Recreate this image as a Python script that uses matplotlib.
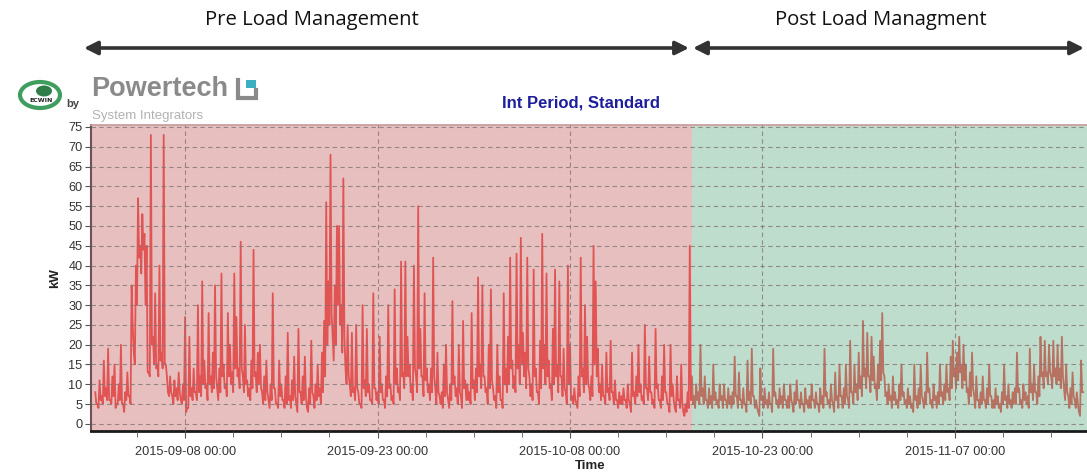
import numpy as np
import pandas as pd
import matplotlib
matplotlib.use('Agg')
import matplotlib.pyplot as plt
import matplotlib.dates as mdates
from matplotlib.patches import Ellipse, Rectangle

# demand (kW) in 4-hour slots, one row per day from 2015-09-01 00:00
kw_pre = [
    [8, 5, 11, 7, 16, 9],      # 09-01
    [19, 6, 12, 15, 5, 10],
    [20, 5, 8, 13, 7, 35],
    [18, 40, 57, 45, 53, 48],
    [45, 13, 73, 22, 33, 15],  # 09-05
    [40, 18, 73, 15, 8, 12],
    [7, 11, 9, 13, 6, 10],
    [27, 4, 22, 9, 14, 8],
    [30, 12, 36, 16, 10, 28],
    [12, 18, 35, 9, 14, 38],   # 09-10
    [15, 10, 28, 20, 13, 38],
    [27, 14, 46, 12, 25, 11],
    [9, 16, 44, 13, 18, 20],
    [8, 12, 16, 6, 10, 33],
    [9, 5, 16, 10, 6, 12],     # 09-15
    [23, 7, 11, 17, 5, 24],
    [8, 12, 17, 4, 9, 21],
    [7, 10, 15, 9, 18, 26],
    [56, 36, 68, 22, 35, 50],
    [50, 30, 62, 14, 25, 10],  # 09-20
    [23, 9, 25, 8, 5, 30],
    [11, 24, 10, 6, 33, 9],
    [8, 22, 10, 6, 12, 30],
    [10, 7, 34, 14, 9, 41],
    [13, 41, 22, 15, 10, 40],  # 09-25
    [12, 55, 24, 12, 33, 14],
    [10, 14, 42, 9, 18, 7],
    [8, 15, 20, 6, 10, 31],
    [12, 9, 20, 7, 26, 11],
    [10, 8, 28, 11, 14, 37],   # 09-30
    [15, 35, 12, 9, 20, 34],
    [9, 7, 20, 12, 6, 33],
    [14, 22, 42, 16, 12, 43],
    [20, 47, 23, 18, 42, 12],
    [10, 39, 14, 8, 21, 48],   # 10-05
    [20, 38, 16, 10, 24, 39],
    [15, 36, 12, 19, 8, 40],
    [20, 7, 9, 5, 12, 42],
    [14, 30, 22, 9, 12, 45],
    [36, 19, 10, 15, 7, 18],   # 10-10
    [9, 21, 8, 11, 6, 8],
    [7, 9, 6, 10, 5, 18],
    [8, 12, 20, 10, 7, 25],
    [9, 17, 8, 6, 24, 10],
    [6, 12, 20, 8, 5, 20],     # 10-15
    [10, 4, 12, 6, 15, 3],
    [5, 8, 45],                # 10-17 until noon
]
kw_post = [
    [12, 7, 10],               # 10-17 afternoon
    [8, 20, 9, 12, 6, 9],
    [7, 15, 8, 6, 10, 7],
    [10, 6, 9, 7, 8, 17],      # 10-20
    [7, 13, 6, 9, 5, 16],
    [8, 19, 7, 6, 3, 14],
    [7, 9, 6, 8, 5, 19],
    [8, 6, 9, 7, 10, 6],
    [7, 10, 5, 8, 11, 6],      # 10-25
    [8, 5, 9, 6, 7, 10],
    [6, 8, 5, 9, 7, 19],
    [8, 6, 10, 5, 13, 7],
    [15, 7, 9, 15, 6, 21],
    [8, 15, 10, 18, 12, 26],   # 10-30
    [14, 23, 12, 22, 17, 10],
    [15, 21, 28, 12, 8, 10],
    [7, 12, 8, 6, 10, 15],
    [8, 6, 9, 7, 5, 15],
    [7, 9, 15, 6, 8, 18],      # 11-04
    [9, 6, 10, 7, 8, 15],
    [8, 10, 15, 9, 17, 21],
    [14, 18, 22, 15, 20, 15],
    [9, 13, 18, 7, 12, 6],
    [8, 12, 6, 9, 15, 7],      # 11-09
    [6, 9, 7, 5, 8, 15],
    [7, 10, 6, 8, 9, 18],
    [9, 6, 10, 8, 7, 19],
    [10, 15, 8, 12, 22, 13],
    [21, 13, 20, 12, 21, 14],  # 11-14
    [20, 14, 22, 9, 15, 7],
    [9, 13, 6, 8, 3, 16],
    [8],
]

# lowest reading seen in the 2 hours after each slot above
trough_pre = [
    [5, 4, 6, 5, 7, 6],
    [6, 5, 7, 4, 5, 6],
    [5, 3, 6, 7, 5, 25],
    [15, 30, 42, 38, 44, 30],
    [13, 12, 20, 15, 14, 12],
    [16, 14, 15, 12, 7, 8],
    [5, 7, 6, 8, 5, 6],
    [3, 4, 7, 6, 8, 6],
    [8, 7, 10, 9, 6, 10],
    [8, 9, 12, 6, 8, 12],
    [9, 7, 12, 10, 8, 14],
    [12, 9, 14, 8, 10, 7],
    [6, 9, 12, 8, 10, 9],
    [5, 6, 8, 4, 6, 9],
    [5, 4, 7, 6, 4, 5],
    [6, 4, 6, 7, 3, 8],
    [5, 6, 7, 3, 5, 8],
    [4, 6, 7, 5, 8, 12],
    [20, 25, 28, 16, 20, 30],
    [25, 18, 22, 10, 12, 7],
    [8, 6, 9, 5, 4, 9],
    [7, 8, 6, 5, 9, 6],
    [5, 8, 6, 4, 7, 9],
    [6, 5, 10, 8, 6, 12],
    [9, 12, 12, 8, 6, 14],
    [8, 14, 12, 7, 11, 8],
    [6, 8, 12, 5, 8, 5],
    [4, 7, 8, 4, 6, 10],
    [7, 5, 8, 4, 9, 6],
    [6, 5, 9, 6, 8, 12],
    [9, 12, 8, 5, 9, 11],
    [6, 4, 8, 6, 4, 10],
    [8, 10, 14, 9, 8, 14],
    [10, 15, 12, 9, 14, 7],
    [6, 12, 8, 5, 9, 14],
    [10, 12, 9, 6, 10, 12],
    [8, 12, 7, 9, 5, 10],
    [6, 5, 6, 4, 7, 12],
    [8, 10, 10, 6, 7, 15],
    [12, 8, 6, 7, 5, 8],
    [6, 8, 5, 6, 4, 5],
    [5, 6, 4, 6, 3, 7],
    [5, 7, 8, 6, 5, 9],
    [6, 8, 5, 4, 9, 6],
    [4, 6, 8, 5, 3, 7],
    [6, 3, 6, 4, 5, 2],
    [3, 4, 6],
]
trough_post = [
    [5, 4, 6],
    [5, 7, 5, 6, 4, 5],
    [4, 6, 5, 4, 6, 4],
    [6, 4, 5, 4, 5, 7],
    [4, 6, 4, 5, 3, 6],
    [5, 7, 4, 4, 2, 6],
    [4, 5, 4, 5, 3, 7],
    [5, 4, 5, 4, 6, 4],
    [4, 6, 3, 5, 6, 4],
    [5, 3, 5, 4, 4, 6],
    [4, 5, 3, 5, 4, 7],
    [5, 4, 6, 3, 6, 4],
    [7, 4, 5, 7, 4, 8],
    [5, 8, 6, 9, 7, 12],
    [9, 12, 8, 11, 9, 6],
    [9, 11, 13, 7, 5, 6],
    [4, 6, 5, 4, 6, 7],
    [5, 4, 5, 4, 3, 6],
    [4, 5, 7, 4, 5, 8],
    [5, 4, 6, 4, 5, 7],
    [5, 6, 8, 6, 9, 12],
    [9, 11, 13, 9, 11, 8],
    [5, 7, 9, 4, 6, 4],
    [5, 6, 4, 5, 7, 4],
    [4, 5, 4, 3, 5, 6],
    [4, 5, 4, 5, 5, 8],
    [5, 4, 6, 5, 4, 8],
    [6, 8, 5, 7, 12, 9],
    [12, 10, 13, 9, 12, 10],
    [11, 9, 12, 6, 8, 4],
    [5, 7, 4, 5, 2, 8],
]

data_start = '2015-09-01 00:00'
switch_time = pd.Timestamp('2015-10-17 12:00')
view_start = pd.Timestamp('2015-08-31 16:00')
view_end = pd.Timestamp('2015-11-17 07:00')
major_dates = ['2015-09-08', '2015-09-23', '2015-10-08', '2015-10-23', '2015-11-07']

levels = [v for row in kw_pre + kw_post for v in row]
troughs = [v for row in trough_pre + trough_post for v in row]
kw = np.empty(len(levels) + len(troughs))
kw[0::2] = levels
kw[1::2] = troughs
times = pd.date_range(data_start, periods=len(kw), freq='2h')

fig = plt.figure(figsize=(10.87, 4.76), dpi=100)
ax = fig.add_axes([91 / 1087, 45 / 476, 996 / 1087, 306 / 476])

ax.plot(times, kw, color='#f22828', lw=1.3, zorder=1)
ax.axvspan(view_start, switch_time, color='#d18181', alpha=0.5, lw=0, zorder=2)
ax.axvspan(switch_time, view_end, color='#7fbc9c', alpha=0.5, lw=0, zorder=2)

ax.set_xlim(view_start, view_end)
ax.set_ylim(-1.8, 75.5)
ax.set_yticks(np.arange(0, 80, 5))

ax.set_xticks(pd.to_datetime(major_dates))
ax.xaxis.set_major_formatter(mdates.DateFormatter('%Y-%m-%d %H:%M'))
ax.set_xticks(pd.date_range('2015-09-04 06:00', view_end, freq='90h'), minor=True)

ax.set_axisbelow(False)
ax.grid(True, which='major', color='#857575', ls=(0, (4, 3)), lw=0.8, alpha=0.8)

ax.tick_params(axis='both', which='both', direction='out', color='#555555',
               labelcolor='#333333', labelsize=9.2)
ax.tick_params(axis='x', which='major', length=5, pad=6)
ax.tick_params(axis='x', which='minor', length=4)
ax.tick_params(axis='y', length=4, pad=2)
for lab in ax.get_xticklabels() + ax.get_yticklabels():
    lab.set_family('Liberation Sans')

ax.spines['right'].set_visible(False)
ax.spines['top'].set_color('#c79a9a')
ax.spines['top'].set_linewidth(1.2)
ax.spines['left'].set_color('#6e5252')
ax.spines['left'].set_linewidth(1.5)
ax.spines['bottom'].set_color('#1a1a1a')
ax.spines['bottom'].set_linewidth(2)

# overlay in pixel coordinates for headers, arrows and logo
ov = fig.add_axes([0, 0, 1, 1], zorder=5)
ov.set_xlim(0, 1087)
ov.set_ylim(476, 0)
ov.axis('off')

ov.text(55, 278, 'kW', rotation=90, ha='center', va='center', fontsize=9.5,
        weight='bold', color='#222222', family='Liberation Sans')
ov.text(590, 466, 'Time', ha='center', va='center', fontsize=9.5,
        weight='bold', color='#222222', family='Liberation Sans')
ov.text(581, 103, 'Int Period, Standard', ha='center', va='center', fontsize=12,
        weight='bold', color='#1e1e9c', family='Liberation Sans')

ov.text(312, 20, 'Pre Load Management', ha='center', va='center', fontsize=14.6,
        color='#111111', family='Open Sans')
ov.text(881, 20, 'Post Load Managment', ha='center', va='center', fontsize=14.6,
        color='#111111', family='Open Sans')
arrow = dict(arrowstyle='<|-|>', color='#333333', lw=2.6, mutation_scale=20,
             shrinkA=0, shrinkB=0)
ov.annotate('', xy=(84, 48), xytext=(689, 48), arrowprops=arrow)
ov.annotate('', xy=(693, 48), xytext=(1084, 48), arrowprops=arrow)

# ECWIN by Powertech logo
ov.add_patch(Ellipse((40, 95), 40, 26, fill=False, ec='#3f9e5e', lw=3))
ov.add_patch(Ellipse((44, 91), 16, 11, fc='#2f7d48', ec='none'))
ov.text(41, 101, 'ECWIN', ha='center', va='center', fontsize=4.5, weight='bold',
        color='#222222', family='DejaVu Sans')
ov.text(73, 104, 'by', ha='center', va='center', fontsize=8, weight='bold',
        color='#444444', family='Liberation Sans')
ov.text(91, 89, 'Powertech', ha='left', va='center', fontsize=19.5, weight='bold',
        color='#8a8a8a', family='Liberation Sans')
ov.text(92, 116, 'System Integrators', ha='left', va='center', fontsize=9.5,
        color='#b2b2b2', family='Liberation Sans')
ov.plot([238, 238, 256, 256], [80, 98, 98, 90], color='#8a8a8a', lw=3,
        solid_joinstyle='miter')
ov.add_patch(Rectangle((246, 80), 10, 8, fc='#3bb0c0', ec='none'))

fig.savefig('out.png', dpi=100, facecolor='white')
